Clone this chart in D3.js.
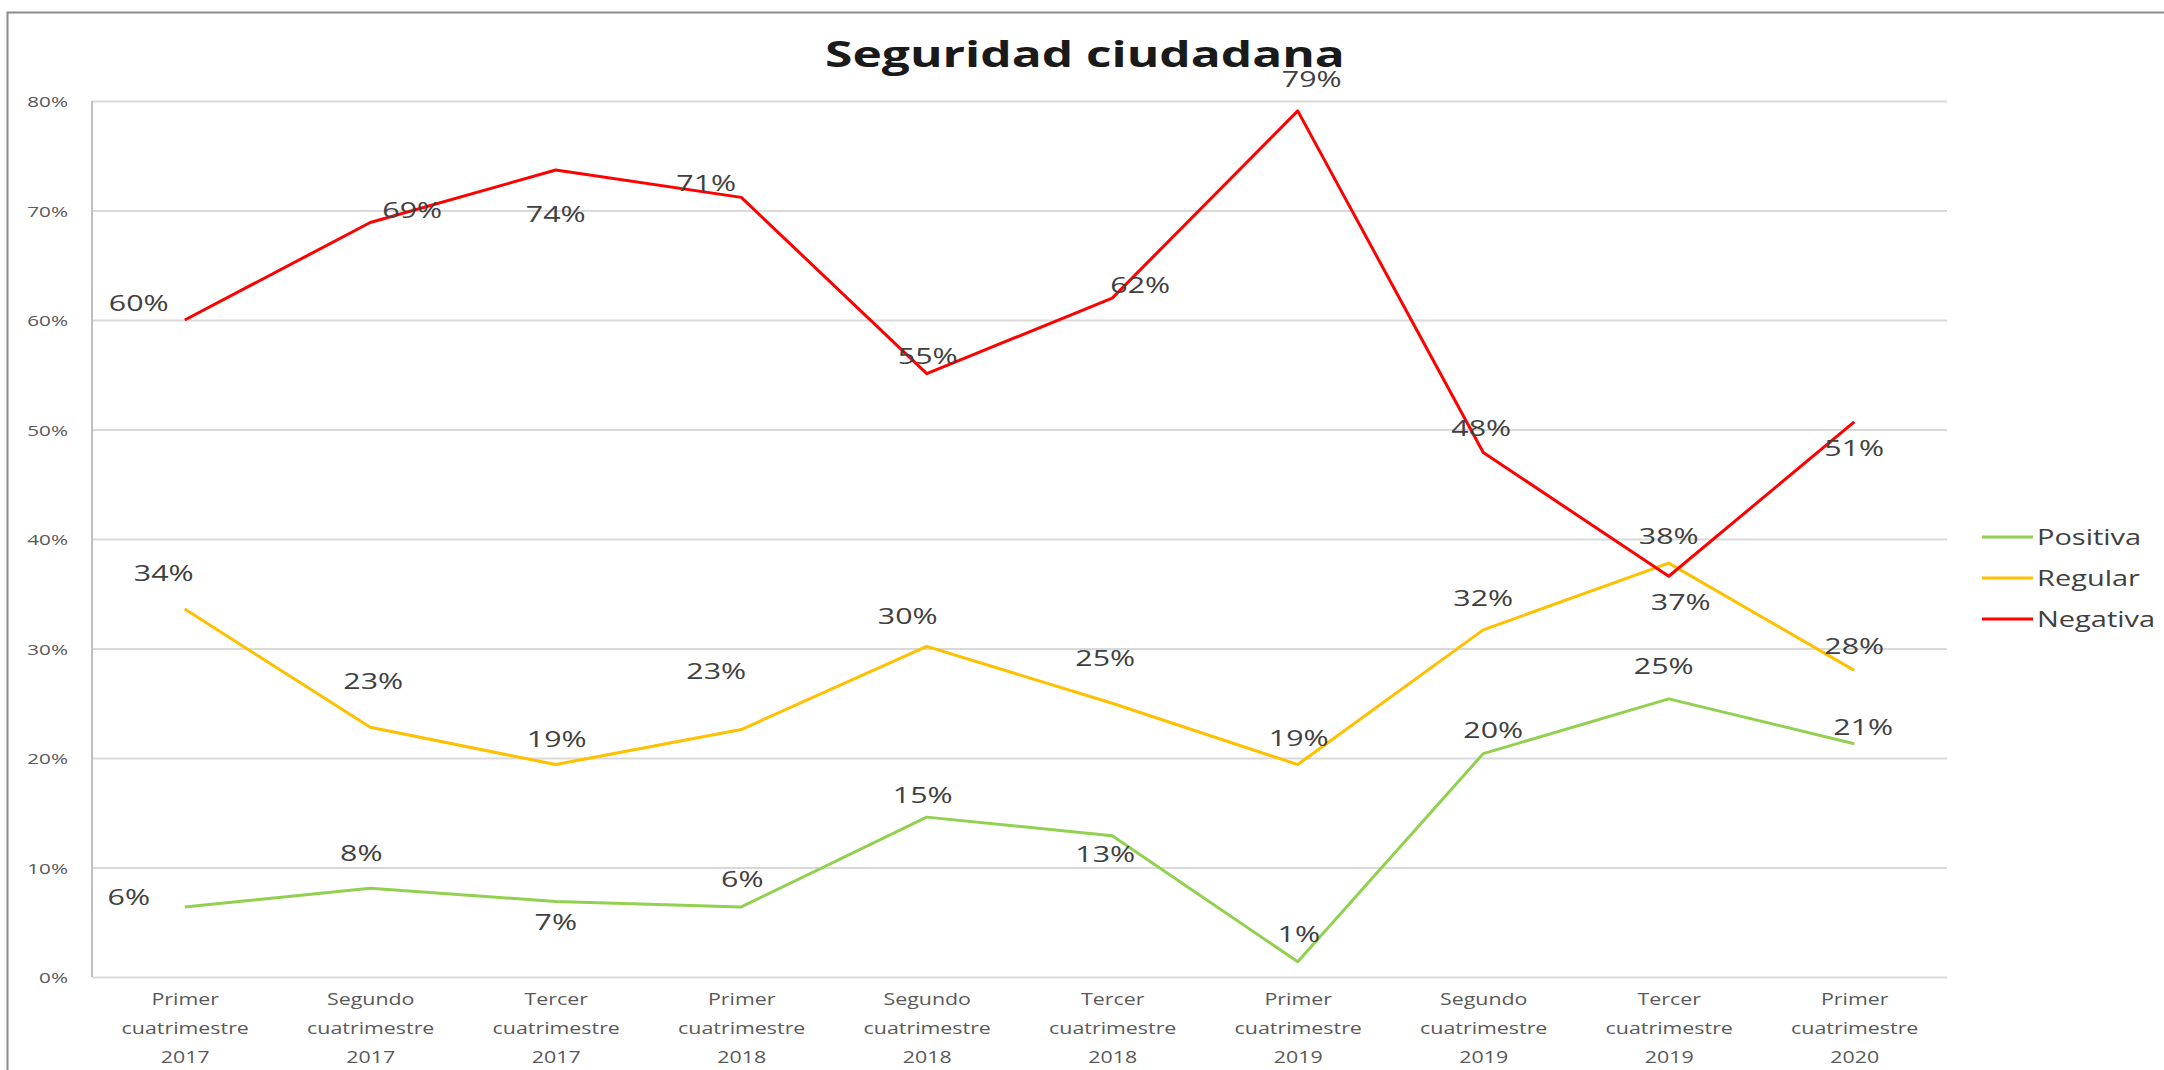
<!DOCTYPE html>
<html>
<head>
<meta charset="utf-8">
<script src="https://cdn.jsdelivr.net/npm/d3@7"></script>
<style>
  html, body { margin: 0; padding: 0; background: #fff; }
  svg { display: block; }
  text { font-family: "Open Sans", "Noto Sans", sans-serif; }
</style>
</head>
<body>
<svg id="chart" width="2164" height="1070"></svg>
<script>
// Survey periods (x axis)
const categories = [
  "Primer cuatrimestre 2017", "Segundo cuatrimestre 2017", "Tercer cuatrimestre 2017",
  "Primer cuatrimestre 2018", "Segundo cuatrimestre 2018", "Tercer cuatrimestre 2018",
  "Primer cuatrimestre 2019", "Segundo cuatrimestre 2019", "Tercer cuatrimestre 2019",
  "Primer cuatrimestre 2020"
];

// Share of answers per opinion
const positiva = [0.064, 0.081, 0.069, 0.064, 0.146, 0.129, 0.014, 0.204, 0.254, 0.213];
const regular  = [0.336, 0.228, 0.194, 0.226, 0.302, 0.250, 0.194, 0.317, 0.378, 0.280];
const negativa = [0.600, 0.689, 0.737, 0.712, 0.551, 0.620, 0.791, 0.479, 0.366, 0.507];

const seriesNames = ["Positiva", "Regular", "Negativa"];
const yTicks = [0, 0.1, 0.2, 0.3, 0.4, 0.5, 0.6, 0.7, 0.8];

// Data-label nudges (label centre relative to its point, px)
const positivaLabelNudge = [[-56,-10],[-9,-36],[0,20],[1,-28],[-4,-22],[-7,18],[1,-28],[10,-24],[-5,-33],[9,-17]];
const regularLabelNudge  = [[-21,-36],[3,-47],[1,-26],[-25,-59],[-19,-31],[-7,-46],[1,-27],[0,-32],[0,-27],[0,-25]];
const negativaLabelNudge = [[-46,-17],[42,-13],[0,44],[-35,-15],[1,-18],[28,-13],[14,-32],[-2,-25],[12,25],[0,26]];

const colors = { Positiva: "#92d050", Regular: "#ffc000", Negativa: "#ff0000" };
const TEXT_SX = 1.38; // horizontal stretch applied to all text

const svg = d3.select("#chart");
const W = 2164, H = 1070;
const plot = { left: 92, right: 1947, top: 101, bottom: 977 };

// outer frame
svg.append("rect")
  .attr("x", 7.5).attr("y", 12.5)
  .attr("width", W + 20).attr("height", H + 20)
  .attr("fill", "#fff").attr("stroke", "#8c8c8c").attr("stroke-width", 2);

const x = d3.scalePoint().domain(categories).range([plot.left, plot.right]).padding(0.5);
const y = d3.scaleLinear().domain([0, 0.8]).range([plot.bottom, plot.top]);

function stretched(sel, px, py) {
  return sel.attr("transform", `translate(${px},${py}) scale(${TEXT_SX},1)`);
}

// y axis with gridlines
const yAxis = d3.axisLeft(y)
  .tickValues(yTicks)
  .tickFormat(d3.format(".0%"))
  .tickSize(-(plot.right - plot.left))
  .tickPadding(24);

const gy = svg.append("g").attr("transform", `translate(${plot.left},0)`).call(yAxis);
gy.select(".domain").remove();
gy.selectAll(".tick line").attr("stroke", "#d9d9d9").attr("stroke-width", 2);
gy.selectAll(".tick text")
  .attr("fill", "#595959")
  .style("font-size", "15px")
  .attr("dy", null)
  .attr("dominant-baseline", "central")
  .each(function () {
    const t = d3.select(this);
    const tx = +t.attr("x");
    t.attr("x", 0);
    stretched(t, tx, 0);
  });

// vertical axis line
svg.append("line")
  .attr("x1", plot.left).attr("x2", plot.left)
  .attr("y1", y(0.8)).attr("y2", y(0))
  .attr("stroke", "#bfbfbf").attr("stroke-width", 2);

// x axis labels
const xAxis = d3.axisBottom(x).tickSize(0).tickPadding(0);
const gx = svg.append("g").attr("transform", `translate(0,${plot.bottom})`).call(xAxis);
gx.select(".domain").remove();
gx.selectAll(".tick text").each(function (d) {
  const t = d3.select(this);
  t.text(null).attr("y", null).attr("dy", null).attr("fill", "#595959").style("font-size", "15.5px");
  d.split(" ").forEach((word, i) => {
    t.append("tspan").attr("x", 0).attr("y", 28 + i * 29).text(word);
  });
  stretched(t, 0, 0);
});

// lines
const line = d3.line()
  .x((d, i) => x(categories[i]))
  .y(d => y(d));

const series = [
  { name: "Positiva", values: positiva, nudge: positivaLabelNudge },
  { name: "Regular", values: regular, nudge: regularLabelNudge },
  { name: "Negativa", values: negativa, nudge: negativaLabelNudge }
];

svg.append("g").selectAll("path")
  .data(series)
  .join("path")
  .attr("d", s => line(s.values))
  .attr("fill", "none")
  .attr("stroke", s => colors[s.name])
  .attr("stroke-width", 3)
  .attr("stroke-linejoin", "round");

// data labels
const fmt = d3.format(".0%");
series.forEach(s => {
  svg.append("g").selectAll("text")
    .data(s.values)
    .join("text")
    .attr("text-anchor", "middle")
    .attr("dominant-baseline", "central")
    .attr("fill", "#404040")
    .style("font-size", "22px")
    .text(d => fmt(d))
    .each(function (d, i) {
      stretched(d3.select(this), x(categories[i]) + s.nudge[i][0], y(d) + s.nudge[i][1]);
    });
});

// title
stretched(
  svg.append("text")
    .attr("text-anchor", "middle")
    .attr("fill", "#1a1a1a")
    .style("font-size", "36px")
    .style("font-weight", "700")
    .text("Seguridad ciudadana"),
  1085, 67);

// legend
const legend = svg.append("g").attr("transform", "translate(1982,537)");
const li = legend.selectAll("g").data(seriesNames).join("g")
  .attr("transform", (d, i) => `translate(0,${i * 41})`);
li.append("line")
  .attr("x1", 0).attr("x2", 51)
  .attr("stroke", d => colors[d]).attr("stroke-width", 3);
li.append("text")
  .attr("dominant-baseline", "central")
  .attr("fill", "#404040")
  .style("font-size", "21px")
  .text(d => d)
  .each(function () { stretched(d3.select(this), 55, 0); });
</script>
</body>
</html>
